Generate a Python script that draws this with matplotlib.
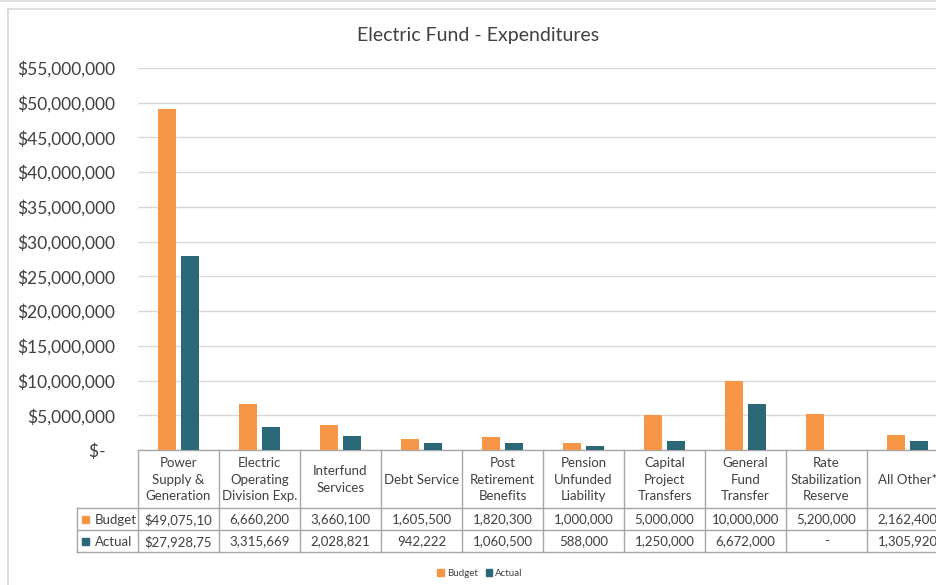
import matplotlib.pyplot as plt
from matplotlib.lines import Line2D
from matplotlib.patches import Patch
import numpy as np

plt.rcParams['font.family'] = ['Lato', 'DejaVu Sans']

# Data
categories = ["Power\nSupply &\nGeneration", "Electric\nOperating\nDivision Exp.",
              "Interfund\nServices", "Debt Service", "Post\nRetirement\nBenefits",
              "Pension\nUnfunded\nLiability", "Capital\nProject\nTransfers",
              "General\nFund\nTransfer", "Rate\nStabilization\nReserve", "All Other*"]
budget = [49075100, 6660200, 3660100, 1605500, 1820300, 1000000,
          5000000, 10000000, 5200000, 2162400]
actual = [27928750, 3315669, 2028821, 942222, 1060500, 588000,
          1250000, 6672000, 0, 1305920]
series = ["Budget", "Actual"]

ORANGE = '#F79646'
TEAL = '#2A6877'
TEXT = '#404040'
GRID = '#D9D9D9'
CELL = '#A6A6A6'

W, H = 937, 585
fig = plt.figure(figsize=(W / 100, H / 100), dpi=100)


def fx(px):
    return px / W


def fy(py):
    return 1 - py / H


# outer chart frame
fig.add_artist(Line2D([0, 1], [fy(1), fy(1)], color=GRID, lw=1.2))
fig.add_artist(Line2D([fx(8), 1.2], [fy(9), fy(9)], color=GRID, lw=1.2))
fig.add_artist(Line2D([fx(8), fx(8)], [fy(9), -0.1], color=GRID, lw=1.2))

# plot area: 10 columns of 81px starting at x=138
left, right, top, bottom = 138, 138 + 81 * 10, 68, 450
ax = fig.add_axes([fx(left), fy(bottom), fx(right - left), fy(top) - fy(bottom)])

x = np.arange(len(categories))
bw, off = 0.22, 0.145
ax.bar(x - off, budget, bw, color=ORANGE, zorder=3)
ax.bar(x + off, actual, bw, color=TEAL, zorder=3)

ax.set_xlim(-0.5, len(categories) - 0.5)
ax.set_ylim(0, 55000000)
ax.set_yticks(np.arange(0, 55000001, 5000000))
ax.yaxis.set_major_formatter(plt.FuncFormatter(
    lambda v, p: "$-  " if v == 0 else f"${v:,.0f}"))
ax.tick_params(axis='y', length=0, pad=16.5, labelsize=12.5, labelcolor=TEXT)
ax.set_xticks([])
ax.grid(axis='y', color=GRID, lw=1, zorder=0)
for s in ['left', 'right', 'top']:
    ax.spines[s].set_visible(False)
ax.spines['bottom'].set_color(CELL)
ax.spines['bottom'].set_linewidth(1)

fig.text(fx(478), fy(35), "Electric Fund - Expenditures", ha='center', va='center',
         fontsize=14, color=TEXT)

# data table below the axis, y in pixel units
tab = fig.add_axes([fx(left), fy(552), fx(right - left), fy(450) - fy(552)])
tab.set_xlim(-0.5, len(categories) - 0.5)
tab.set_ylim(552, 450)
tab.axis('off')

xl = (77 - left) / 81 - 0.5
for yy in [508, 530, 552]:
    tab.plot([xl, 9.5], [yy, yy], color=CELL, lw=1, clip_on=False)
for k in range(len(categories) + 1):
    tab.plot([k - 0.5, k - 0.5], [450, 552], color=CELL, lw=1, clip_on=False)
tab.plot([xl, xl], [508, 552], color=CELL, lw=1, clip_on=False)


def cell_text(v, i):
    if v == 0:
        return "-"
    s = f"{v:,.0f}"
    if i == 0:
        s = ("$" + s)[:10]
    return s


for i, name in enumerate(categories):
    tab.text(i, 479.5, name, ha='center', va='center', fontsize=9.5, color=TEXT,
             linespacing=1.45)
    tab.text(i, 519.5, cell_text(budget[i], i), ha='center', va='center',
             fontsize=9.5, color=TEXT)
    tab.text(i, 541.5, cell_text(actual[i], i), ha='center', va='center',
             fontsize=9.5, color=TEXT)

sq = 7 / 81
for yy, col, name in [(519.5, ORANGE, series[0]), (541.5, TEAL, series[1])]:
    x0 = xl + 5.5 / 81
    tab.add_patch(plt.Rectangle((x0, yy - 3.5), sq, 7, color=col, clip_on=False))
    tab.text(x0 + 12 / 81, yy, name, ha='left', va='center', fontsize=9.5,
             color=TEXT)

handles = [Patch(color=ORANGE, label=series[0]), Patch(color=TEAL, label=series[1])]
fig.legend(handles=handles, loc='center', bbox_to_anchor=(fx(480), fy(573)),
           ncol=2, frameon=False, fontsize=7, handlelength=0.7, handleheight=0.7,
           handletextpad=0.3, columnspacing=0.8, labelcolor=TEXT)

fig.savefig('out.png', dpi=100)
